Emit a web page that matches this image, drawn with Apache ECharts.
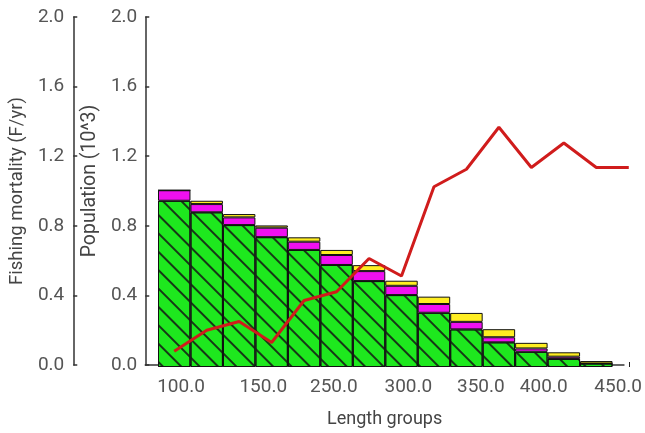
<!DOCTYPE html>
<html>
<head>
<meta charset="utf-8">
<script src="https://cdn.jsdelivr.net/npm/echarts@6/dist/echarts.min.js"></script>
<style>html,body{margin:0;padding:0;background:#fff}#c{width:645px;height:433px}</style>
</head>
<body>
<div id="c"></div>
<script>
// ---- data ----
var lengthGroups = ['100','125','150','175','200','225','250','275','300','325','350','375','400','425','450'];
var greenPop   = [0.95,0.884,0.811,0.742,0.669,0.583,0.491,0.411,0.31,0.215,0.141,0.087,0.046,0.02,null];
var magentaPop = [0.06,0.047,0.044,0.054,0.047,0.057,0.057,0.053,0.05,0.043,0.029,0.019,0.013,0.0,null];
var yellowPop  = [0.0,0.019,0.019,0.013,0.025,0.029,0.034,0.029,0.042,0.051,0.046,0.032,0.025,0.014,null];
var mortality  = [0.09,0.21,0.26,0.14,0.38,0.43,0.62,0.52,1.03,1.13,1.37,1.14,1.28,1.14,1.14];
var xTickLabels = ['100.0','150.0','250.0','300.0','350.0','400.0','450.0'];
var yTicks = {min:0, max:2, interval:0.4};

// ---- layout (label anchor positions along the frame axis, in px units) ----
var xLabelAnchors = [37,122,195,272,347,412,489];

var font = 'Roboto, "DejaVu Sans", sans-serif';
var chart = echarts.init(document.getElementById('c'), null, {renderer:'canvas'});
var labelColor = '#555';
var axisCol = '#333';

function yFmt(v){ return v.toFixed(1); }

var option = {
  animation:false,
  backgroundColor:'#fff',
  grid:[
    {left:158, top:17, width:498, height:350},
    {left:143, top:17, width:495, height:350}
  ],
  xAxis:[
    {gridIndex:0, type:'category', data:lengthGroups, boundaryGap:true,
     axisLine:{show:false}, axisLabel:{show:false},
     axisTick:{show:true, inside:true, length:5, alignWithLabel:true, lineStyle:{color:'#222'}},
     splitLine:{show:false}},
    {gridIndex:1, type:'value', min:0, max:495,
     axisLine:{show:true, onZero:false, lineStyle:{color:axisCol, width:1.5}},
     axisTick:{show:false}, splitLine:{show:false},
     axisLabel:{show:true, customValues:xLabelAnchors.slice(), margin:13, color:labelColor, fontSize:19, fontFamily:font,
       formatter:function(v){ var i = xLabelAnchors.indexOf(v); return i>=0 ? xTickLabels[i] : ''; }},
     name:'Length groups', nameLocation:'middle', nameGap:45,
     nameTextStyle:{color:'#444', fontSize:18, fontFamily:font}}
  ],
  yAxis:[
    {gridIndex:0, type:'value', min:yTicks.min, max:yTicks.max, interval:yTicks.interval, show:false},
    {gridIndex:1, type:'value', position:'left', offset:0, min:yTicks.min, max:yTicks.max, interval:yTicks.interval,
     axisLine:{show:true, lineStyle:{color:axisCol, width:1.5}},
     axisTick:{show:true, inside:true, length:4, lineStyle:{color:axisCol, width:1.5}},
     splitLine:{show:false},
     axisLabel:{color:labelColor, fontSize:19, fontFamily:font, margin:8, formatter:yFmt},
     name:'Population (10^3)', nameLocation:'middle', nameGap:41, nameRotate:90,
     nameTextStyle:{color:'#444', fontSize:19.5, fontFamily:font, padding:[0,0,0,20]}},
    {gridIndex:1, type:'value', position:'left', offset:72, min:yTicks.min, max:yTicks.max, interval:yTicks.interval,
     axisLine:{show:true, lineStyle:{color:axisCol, width:1.5}},
     axisTick:{show:true, inside:true, length:4, lineStyle:{color:axisCol, width:1.5}},
     splitLine:{show:false},
     axisLabel:{color:labelColor, fontSize:19, fontFamily:font, margin:9, formatter:yFmt},
     name:'Fishing mortality (F/yr)', nameLocation:'middle', nameGap:39, nameRotate:90,
     nameTextStyle:{color:'#444', fontSize:18.5, fontFamily:font}}
  ],
  series:[
    {type:'bar', name:'green', stack:'pop', xAxisIndex:0, yAxisIndex:0, data:greenPop,
     barCategoryGap:'0%',
     itemStyle:{color:'#1ee81e', borderColor:'#111', borderWidth:1,
       decal:{symbol:'rect', symbolSize:1, dashArrayX:[1,0], dashArrayY:[1.4,11], rotation:Math.PI/4, color:'#163816'}}},
    {type:'bar', name:'magenta', stack:'pop', xAxisIndex:0, yAxisIndex:0, data:magentaPop,
     barCategoryGap:'0%',
     itemStyle:{color:'#f010f0', borderColor:'#111', borderWidth:1}},
    {type:'bar', name:'yellow', stack:'pop', xAxisIndex:0, yAxisIndex:0, data:yellowPop,
     barCategoryGap:'0%',
     itemStyle:{color:'#ffee22', borderColor:'#111', borderWidth:1}},
    {type:'line', name:'mortality', xAxisIndex:0, yAxisIndex:0, data:mortality,
     symbol:'none', smooth:false, z:5,
     lineStyle:{color:'#d01c1c', width:3}}
  ]
};
chart.setOption(option);
</script>
</body>
</html>
